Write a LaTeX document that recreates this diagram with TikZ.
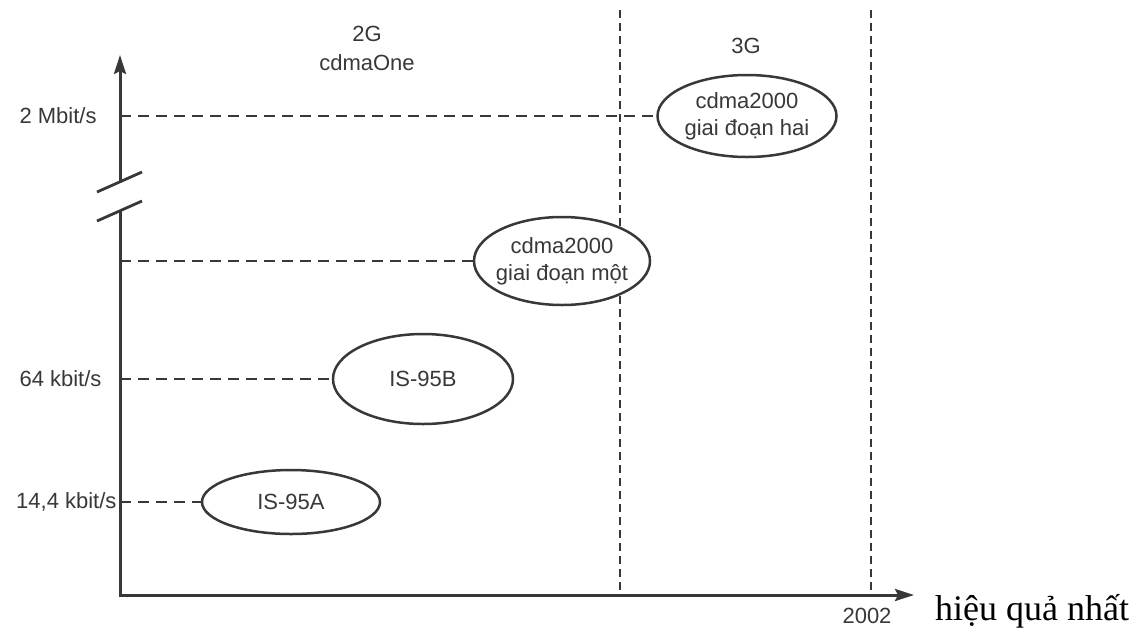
\documentclass[tikz,border=0pt]{standalone}
\usepackage{fontspec}
\setmainfont{Liberation Sans}
\newfontfamily\bookfont{Liberation Serif}
\usetikzlibrary{arrows.meta,positioning,shapes.geometric}
\definecolor{ink}{HTML}{383838}

\begin{document}
\begin{tikzpicture}[x=1pt, y=-1pt, >={Stealth[length=19pt,width=12pt,inset=3pt]},
    font=\fontsize{22}{27}\selectfont, text=ink,
    phase/.style={ellipse, draw=ink, line width=2.5pt, fill=white, inner sep=0pt, inner xsep=-8pt, align=center},
    guide/.style={ink, line width=2.4pt, dash pattern=on 11pt off 7pt},
    stage/.style={ink, line width=2.4pt, dash pattern=on 8pt off 5pt}]
    \useasboundingbox (0,0) rectangle (1147,630);
    % axes with break
    \coordinate (origin) at (120,595);
    \coordinate (ytop) at (120,55);
    \coordinate (xend) at (914,595);
    \coordinate (cutA) at (120,182);
    \coordinate (cutB) at (120,211);
    \coordinate (labx) at (16,0);
    \draw[ink, line width=3pt, ->] (cutA) -- (ytop);
    \draw[ink, line width=3pt, ->] (cutB) |- (xend);
    \foreach \c in {cutA,cutB} { \draw[ink, line width=2.8pt] (\c) ++(-23,10) -- ++(45,-20); }
    % generation borders
    \coordinate (gen3) at (620,10);
    \coordinate (y2002) at (871,10);
    \draw[stage] (gen3) -- (gen3 |- origin);
    \draw[stage] (y2002) -- (y2002 |- origin);
    \node (gen2lab) at (367,48) [align=center] {2G\\[2pt]cdmaOne};
    \node (gen3lab) at (746,46) {3G};
    \node (yearlab) at (867,616) {2002};
    % systems
    \node[phase, minimum width=178pt, minimum height=64pt] (is95a) at (291,502) {IS-95A};
    \node[phase, minimum width=180pt, minimum height=90pt] (is95b) at (423,379) {IS-95B};
    \node[phase, minimum width=176pt, minimum height=88pt] (mot) at (562,261) {cdma2000\\giai đoạn một};
    \node[phase, minimum width=179pt, minimum height=82pt] (hai) at (747,116) {cdma2000\\giai đoạn hai};
    \draw[guide] (hai.west -| origin) -- (hai.west);
    \draw[guide] (mot.west -| origin) -- (mot.west);
    \draw[guide] (is95b.west -| origin) -- (is95b.west);
    \draw[guide] (is95a.west -| origin) -- (is95a.west);
    \node[anchor=west] (r2m) at (hai.west -| labx) {2 Mbit/s};
    \node[anchor=west] (r64) at (is95b.west -| labx) {64 kbit/s};
    \node[anchor=west, inner xsep=0pt] (r14) at (is95a.west -| labx) {14,4 kbit/s};
    \node[anchor=base west, inner sep=0pt, text=black, font=\bookfont\fontsize{36}{40}\selectfont] (tail) at (935,620) {hiệu quả nhất};
\end{tikzpicture}
\end{document}
